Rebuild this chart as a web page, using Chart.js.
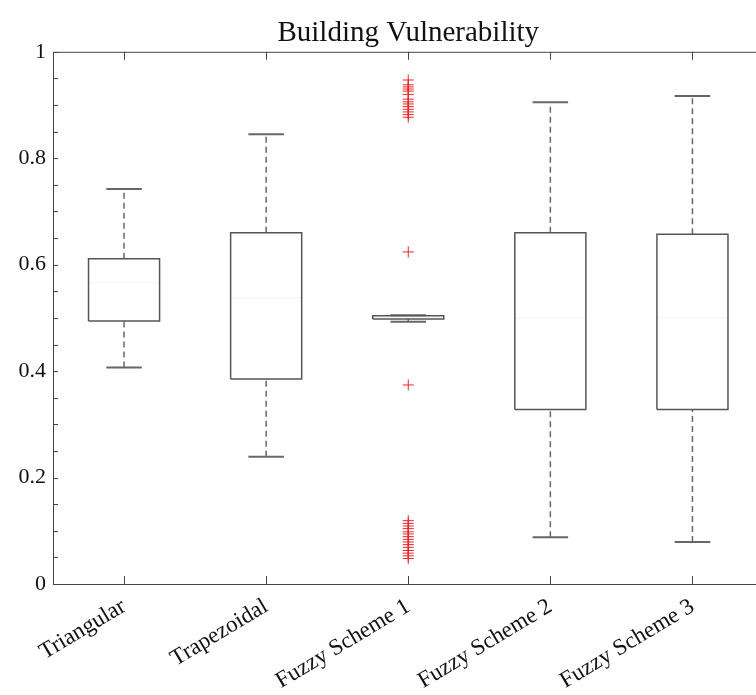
<!DOCTYPE html>
<html>
<head>
<meta charset="utf-8">
<script src="https://cdn.jsdelivr.net/npm/chart.js@4/dist/chart.umd.min.js"></script>
<style>
    html, body { margin: 0; padding: 0; background: #fff; overflow: hidden; }
    #wrap { position: relative; width: 770px; height: 695px; }
</style>
</head>
<body>
<div id="wrap"><canvas id="boxChart"></canvas></div>
<script>
const categories = ['Triangular', 'Trapezoidal', 'Fuzzy Scheme 1', 'Fuzzy Scheme 2', 'Fuzzy Scheme 3'];
const whiskerLow = [0.407, 0.239, 0.493, 0.088, 0.079];
const quartile1 = [0.494, 0.385, 0.498, 0.328, 0.328];
const medians = [0.566, 0.538, 0.501, 0.500, 0.500];
const quartile3 = [0.611, 0.660, 0.504, 0.660, 0.657];
const whiskerHigh = [0.742, 0.845, 0.505, 0.905, 0.917];
// outliers only show up for Fuzzy Scheme 1
const outlierCategory = 3;
const outlierValues = [
    0.947, 0.938, 0.934, 0.930, 0.926, 0.920, 0.911, 0.906, 0.902, 0.897, 0.892, 0.887, 0.882, 0.877,
    0.624, 0.374,
    0.119, 0.114, 0.109, 0.104, 0.098, 0.094, 0.089, 0.084, 0.079, 0.074, 0.069, 0.063, 0.058, 0.053, 0.048
];
const yTicks = [0, 0.2, 0.4, 0.6, 0.8, 1];

const boxHalf = 0.25;
const capHalf = 0.125;
const edgeColor = '#555';
const fontFamily = '"Liberation Serif", "DejaVu Serif", serif';

const segment = (points, extra) => Object.assign({
    type: 'scatter',
    data: points,
    showLine: true,
    borderColor: edgeColor,
    borderWidth: 1.5,
    pointRadius: 0,
    fill: false
}, extra || {});

const datasets = [];
categories.forEach((name, i) => {
    const x = i + 1;
    datasets.push(segment([
        { x: x - boxHalf, y: quartile1[i] }, { x: x + boxHalf, y: quartile1[i] },
        { x: x + boxHalf, y: quartile3[i] }, { x: x - boxHalf, y: quartile3[i] },
        { x: x - boxHalf, y: quartile1[i] }
    ]));
    datasets.push(segment([{ x: x - boxHalf, y: medians[i] }, { x: x + boxHalf, y: medians[i] }], { borderColor: '#f4f4f4', borderWidth: 1 }));
    datasets.push(segment([{ x: x, y: quartile3[i] }, { x: x, y: whiskerHigh[i] }], { borderDash: [6, 4], borderColor: '#666' }));
    datasets.push(segment([{ x: x, y: whiskerLow[i] }, { x: x, y: quartile1[i] }], { borderDash: [6, 4], borderColor: '#666' }));
    datasets.push(segment([{ x: x - capHalf, y: whiskerHigh[i] }, { x: x + capHalf, y: whiskerHigh[i] }], { borderColor: '#666', borderWidth: 2 }));
    datasets.push(segment([{ x: x - capHalf, y: whiskerLow[i] }, { x: x + capHalf, y: whiskerLow[i] }], { borderColor: '#666', borderWidth: 2 }));
});
datasets.push({
    type: 'scatter',
    data: outlierValues.map(v => ({ x: outlierCategory, y: v })),
    pointStyle: 'cross',
    pointRadius: 5.5,
    borderColor: '#e8262a',
    borderWidth: 1,
    showLine: false
});

// matlab style frame with inward ticks
const frameTicks = {
    id: 'frameTicks',
    afterDraw(chart) {
        const { ctx, chartArea: a, scales } = chart;
        ctx.save();
        ctx.strokeStyle = '#444';
        ctx.lineWidth = 1;
        ctx.strokeRect(a.left + 0.5, a.top + 0.5, a.right - a.left, a.bottom - a.top);
        ctx.beginPath();
        scales.x.ticks.forEach(t => {
            const px = Math.round(scales.x.getPixelForValue(t.value)) + 0.5;
            ctx.moveTo(px, a.bottom); ctx.lineTo(px, a.bottom - 8);
            ctx.moveTo(px, a.top); ctx.lineTo(px, a.top + 8);
        });
        for (let k = 0; k <= 20; k++) {
            const py = Math.round(scales.y.getPixelForValue(k * 0.05)) + 0.5;
            ctx.moveTo(a.left, py); ctx.lineTo(a.left + 5, py);
        }
        ctx.stroke();
        ctx.restore();
    }
};

new Chart(document.getElementById('boxChart'), {
    type: 'scatter',
    data: { datasets },
    plugins: [frameTicks],
    options: {
        responsive: true,
        maintainAspectRatio: false,
        animation: false,
        layout: { padding: { left: 0, right: 2, top: 0, bottom: 0 } },
        plugins: {
            legend: { display: false },
            tooltip: { enabled: false },
            title: {
                display: true,
                text: 'Building Vulnerability',
                fullSize: false,
                color: '#111',
                font: { family: fontFamily, size: 29, weight: 'normal' },
                padding: { top: 16, bottom: 1 }
            }
        },
        scales: {
            x: {
                type: 'linear',
                min: 0.5,
                max: 5.5,
                grid: { display: false, drawTicks: false },
                border: { display: false },
                afterBuildTicks: scale => { scale.ticks = categories.map((c, i) => ({ value: i + 1 })); },
                afterFit: scale => { scale.height = 111; },
                ticks: {
                    autoSkip: false,
                    minRotation: 31,
                    maxRotation: 31,
                    padding: 9,
                    color: '#111',
                    font: { family: fontFamily, size: 23 },
                    callback: v => categories[v - 1]
                }
            },
            y: {
                min: 0,
                max: 1,
                grid: { display: false, drawTicks: false },
                border: { display: false },
                afterBuildTicks: scale => { scale.ticks = yTicks.map(v => ({ value: v })); },
                afterFit: scale => { scale.width = 53; },
                ticks: {
                    padding: 7,
                    color: '#111',
                    font: { family: fontFamily, size: 22 },
                    callback: v => String(+v.toFixed(1))
                }
            }
        }
    }
});
</script>
</body>
</html>
